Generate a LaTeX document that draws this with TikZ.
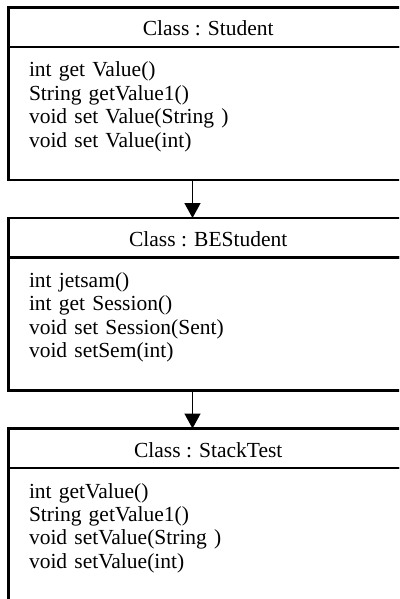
\documentclass[tikz,border=0pt]{standalone}
\usepackage{fontspec}
\setmainfont{Liberation Serif}
\usepackage{tikz}
\usetikzlibrary{positioning,arrows.meta}

\begin{document}
\begin{tikzpicture}[x=1pt, y=-1pt,
    font=\fontsize{21.5pt}{23.4pt}\selectfont,
    classname/.style={draw, black, line width=2.2pt, rectangle, inner sep=0pt, outer sep=0pt, minimum width=399.5pt, text height=28.5pt, text depth=11pt, text centered},
    classbody/.style={draw, black, line width=2.2pt, rectangle, inner xsep=20.5pt, inner ysep=0pt, outer sep=0pt, text width=358.5pt, align=left, text height=30pt, text depth=103pt},
    inherit/.style={black, line width=1.5pt, -{Triangle[length=15pt, width=16pt]}}]
            \useasboundingbox (0,0) rectangle (399,599);
            \clip (0,0) rectangle (399,599);
            \node[classname, anchor=north west] (Student) at (8.5,7.5) {Class : Student};
            \node[classbody, below=0pt of Student] (StudentBody) {int get Value()\\String getValue1()\\void set Value(String )\\void set Value(int)};
            \node[classname, below=38pt of StudentBody] (BEStudent) {Class : BEStudent};
            \node[classbody, below=0pt of BEStudent] (BEStudentBody) {int jetsam()\\int get Session()\\void set Session(Sent)\\void setSem(int)};
            \node[classname, below=38pt of BEStudentBody] (StackTest) {Class : StackTest};
            \node[classbody, below=0pt of StackTest] (StackTestBody) {int getValue()\\String getValue1()\\void setValue(String )\\void setValue(int)};
            \draw[inherit] ([xshift=184pt]StudentBody.south west) -- ([xshift=184pt]BEStudent.north west);
            \draw[inherit] ([xshift=184pt]BEStudentBody.south west) -- ([xshift=184pt]StackTest.north west);
\end{tikzpicture}
\end{document}
